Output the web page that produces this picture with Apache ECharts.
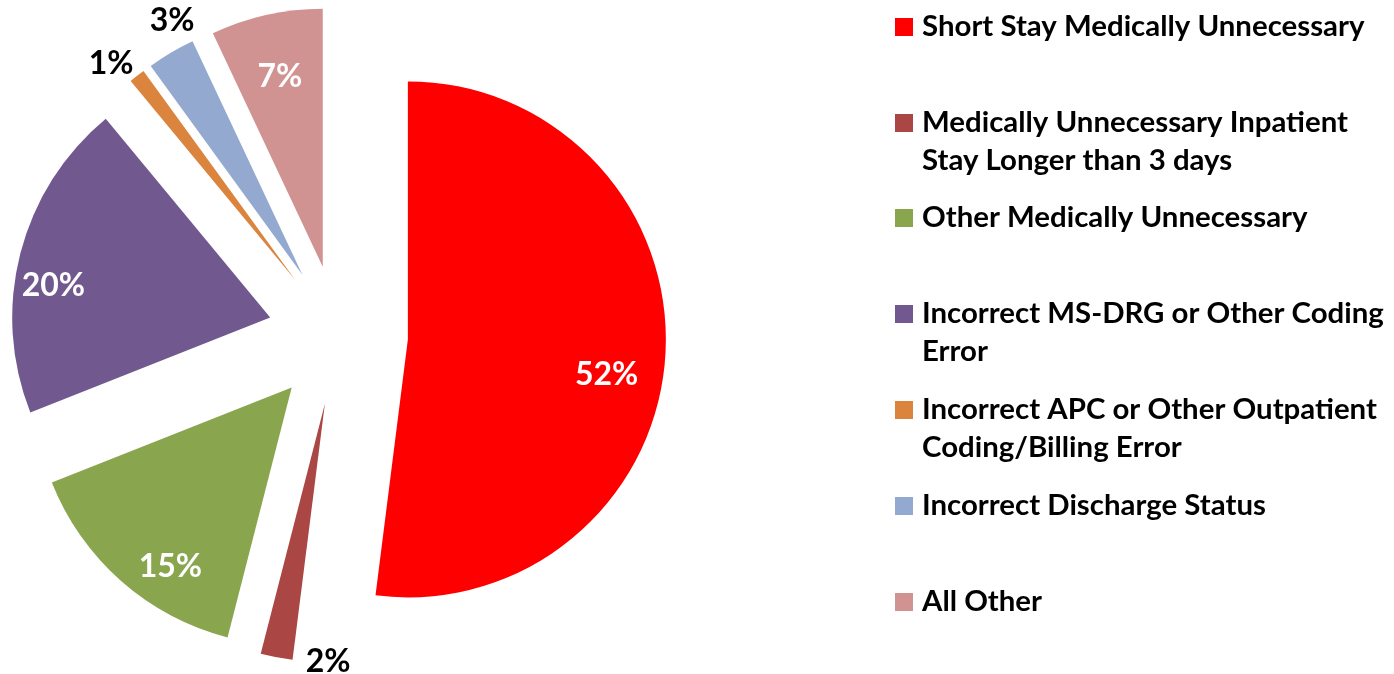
<!DOCTYPE html>
<html>
<head>
<meta charset="utf-8">
<script src="https://cdn.jsdelivr.net/npm/echarts@6/dist/echarts.min.js"></script>
<style>
html,body{margin:0;padding:0;background:#fff;}
#main{width:1394px;height:674px;}
</style>
</head>
<body>
<div id="main"></div>
<script>
// ---- data ----
const categories = [
  'Short Stay Medically Unnecessary',
  'Medically Unnecessary Inpatient Stay Longer than 3 days',
  'Other Medically Unnecessary',
  'Incorrect MS-DRG or Other Coding Error',
  'Incorrect APC or Other Outpatient Coding/Billing Error',
  'Incorrect Discharge Status',
  'All Other'
];
const legendLines = [
  ['Short Stay Medically Unnecessary'],
  ['Medically Unnecessary Inpatient', 'Stay Longer than 3 days'],
  ['Other Medically Unnecessary'],
  ['Incorrect MS-DRG or Other Coding', 'Error'],
  ['Incorrect APC or Other Outpatient', 'Coding/Billing Error'],
  ['Incorrect Discharge Status'],
  ['All Other']
];
const percentValues = [52, 2, 15, 20, 1, 3, 7];

// ---- styles ----
const colors = ['#FF0000', '#AA4643', '#89A54E', '#71588F', '#DB843D', '#93A9CF', '#D19392'];
const labelInside = [true, false, true, true, false, false, true];
const labelOffsets = [[67, 27], [28, 128], [-34, 80], [-89, 1], [-103, -112], [-63, -140], [-14, -61]];
const legendMarkerY = [27, 123, 218, 314, 410, 506, 602];
const FONT = 'Lato';
const LINE_H = 38;

const chart = echarts.init(document.getElementById('main'), null, {renderer: 'canvas'});

const legends = categories.map((name, i) => {
  const lines = legendLines[i];
  // a leading blank line keeps the marker aligned with the first text line
  const text = lines.length > 1 ? '\n' + lines.join('\n') : lines[0];
  const boxH = lines.length > 1 ? LINE_H * (lines.length * 2 - 1) : LINE_H;
  return {
    data: [name],
    orient: 'vertical',
    left: 895,
    top: legendMarkerY[i] - boxH / 2,
    padding: 0,
    itemWidth: 18,
    itemHeight: 18,
    icon: 'rect',
    selectedMode: false,
    formatter: () => text,
    textStyle: {
      fontFamily: FONT,
      fontWeight: 'bold',
      fontSize: 29.4,
      lineHeight: LINE_H,
      color: '#000',
      padding: [0, 0, 0, 4]
    }
  };
});

chart.setOption({
  animation: false,
  backgroundColor: '#fff',
  legend: legends,
  series: [{
    type: 'pie',
    center: [338, 335],
    radius: [0, 258],
    startAngle: 90,
    clockwise: true,
    selectedMode: 'multiple',
    selectedOffset: 70,
    avoidLabelOverlap: false,
    emphasis: {disabled: true},
    labelLine: {show: false},
    itemStyle: {borderWidth: 0},
    label: {
      show: true,
      position: 'inside',
      formatter: '{c}%',
      fontFamily: FONT,
      fontWeight: 'bold',
      fontSize: 32
    },
    labelLayout: (params) => ({
      dx: labelOffsets[params.dataIndex][0],
      dy: labelOffsets[params.dataIndex][1]
    }),
    data: percentValues.map((v, i) => ({
      name: categories[i],
      value: v,
      selected: true,
      itemStyle: {color: colors[i]},
      select: {itemStyle: {color: colors[i], borderWidth: 0}},
      label: {color: labelInside[i] ? '#fff' : '#000'}
    }))
  }]
});
</script>
</body>
</html>
